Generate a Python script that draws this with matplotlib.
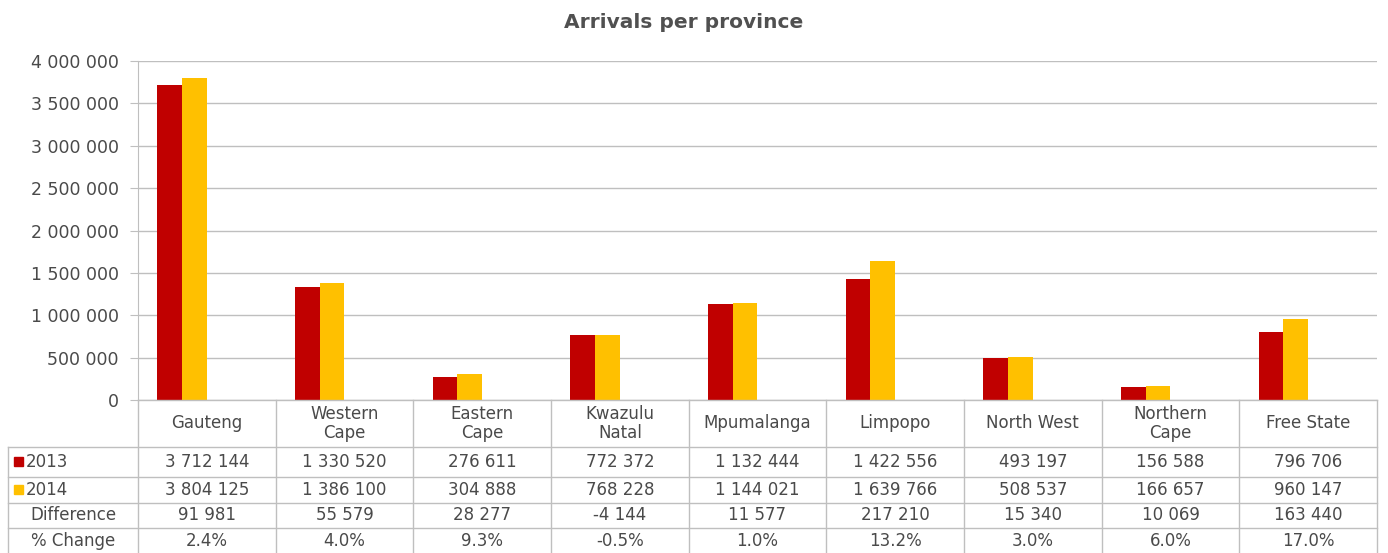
import matplotlib.pyplot as plt
from matplotlib.patches import Rectangle

provinces = ["Gauteng", "Western\nCape", "Eastern\nCape", "Kwazulu\nNatal", "Mpumalanga",
             "Limpopo", "North West", "Northern\nCape", "Free State"]
arr_2013 = [3712144, 1330520, 276611, 772372, 1132444, 1422556, 493197, 156588, 796706]
arr_2014 = [3804125, 1386100, 304888, 768228, 1144021, 1639766, 508537, 166657, 960147]
difference = ["91 981", "55 579", "28 277", "-4 144", "11 577", "217 210", "15 340", "10 069", "163 440"]
pct_change = ["2.4%", "4.0%", "9.3%", "-0.5%", "1.0%", "13.2%", "3.0%", "6.0%", "17.0%"]
yticks = [0, 500000, 1000000, 1500000, 2000000, 2500000, 3000000, 3500000, 4000000]

red = "#C00000"
yellow = "#FFC000"
grid = "#BFBFBF"
txt = "#4A4A4A"
W, H = 1388, 553


def spaced(v):
    return "{:,}".format(v).replace(",", " ")


fig = plt.figure(figsize=(W / 100, H / 100), dpi=100)

# chart area in pixels
x0, x1, ytop, ybot = 138, 1377, 61, 400
ax = fig.add_axes([x0 / W, 1 - ybot / H, (x1 - x0) / W, (ybot - ytop) / H])
n = len(provinces)
xs = list(range(n))
bw = 0.18
ax.bar([x - 1.5 * bw for x in xs], arr_2013, width=bw, color=red, zorder=3)
ax.bar([x - 0.5 * bw for x in xs], arr_2014, width=bw, color=yellow, zorder=3)
ax.set_xlim(-0.5, n - 0.5)
ax.set_ylim(0, 4000000)
ax.set_yticks(yticks)
ax.set_yticklabels([spaced(v) for v in yticks], fontsize=12.5, color=txt)
ax.set_xticks([])
ax.grid(axis="y", color=grid, linewidth=1, zorder=0)
for s in ["top", "right", "bottom"]:
    ax.spines[s].set_visible(False)
ax.spines["left"].set_color(grid)
ax.tick_params(axis="y", length=6, color=grid, pad=8)

fig.text(684 / W, 1 - 22 / H, "Arrivals per province", ha="center", va="center",
         fontsize=14.5, fontweight="semibold", color="#505050")

# data table drawn below the chart
tab = fig.add_axes([0, 0, 1, 1])
tab.set_xlim(0, W)
tab.set_ylim(H, 0)
tab.axis("off")
lx = 8
rows = [400, 447, 477, 503, 528, 553]
cw = (x1 - x0) / n
lc = grid
tab.plot([x0, x1], [400, 400], color=lc, lw=1)
for yy in rows[1:-1]:
    tab.plot([lx, x1], [yy, yy], color=lc, lw=1)
tab.plot([lx, lx], [447, 553], color=lc, lw=1)
for i in range(n + 1):
    xx = x0 + i * cw
    tab.plot([xx, xx], [400, 553], color=lc, lw=1)

fs = 12
for i in range(n):
    cx = x0 + (i + 0.5) * cw
    tab.text(cx, (rows[0] + rows[1]) / 2, provinces[i], ha="center", va="center",
             fontsize=fs, color=txt, linespacing=1.05)
    tab.text(cx, (rows[1] + rows[2]) / 2, spaced(arr_2013[i]), ha="center", va="center", fontsize=fs, color=txt)
    tab.text(cx, (rows[2] + rows[3]) / 2, spaced(arr_2014[i]), ha="center", va="center", fontsize=fs, color=txt)
    tab.text(cx, (rows[3] + rows[4]) / 2, difference[i], ha="center", va="center", fontsize=fs, color=txt)
    tab.text(cx, (rows[4] + rows[5]) / 2, pct_change[i], ha="center", va="center", fontsize=fs, color=txt)

for j, (lab, col) in enumerate([("2013", red), ("2014", yellow)]):
    yc = (rows[1 + j] + rows[2 + j]) / 2
    tab.add_patch(Rectangle((14, yc - 5), 9, 9, color=col))
    tab.text(26, yc, lab, ha="left", va="center", fontsize=fs, color=txt)
tab.text(lx + 65, (rows[3] + rows[4]) / 2, "Difference", ha="center", va="center", fontsize=fs, color=txt)
tab.text(lx + 65, (rows[4] + rows[5]) / 2, "% Change", ha="center", va="center", fontsize=fs, color=txt)

fig.savefig("out.png", dpi=100)
